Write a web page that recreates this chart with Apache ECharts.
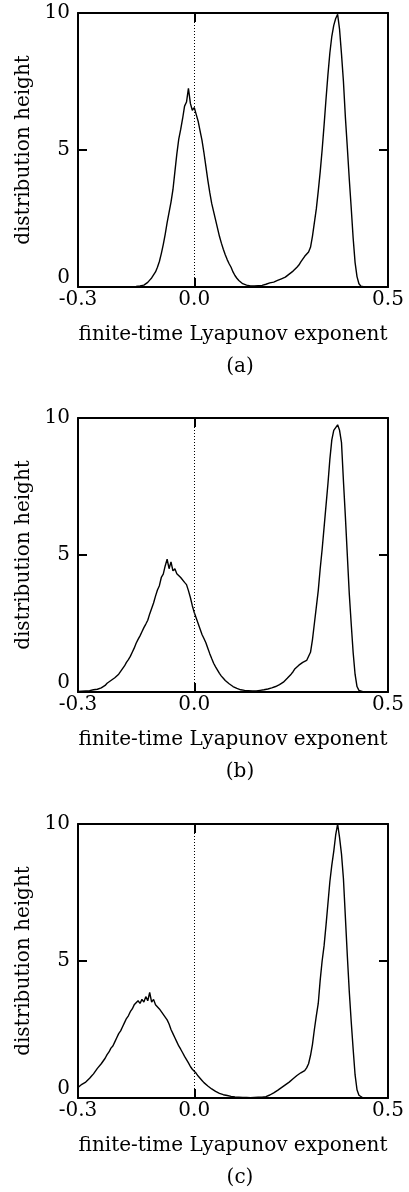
<!DOCTYPE html>
<html>
<head>
<meta charset="utf-8">
<script src="https://cdn.jsdelivr.net/npm/echarts@6/dist/echarts.min.js"></script>
<style>
html,body{margin:0;padding:0;background:#fff;}
#chart{width:409px;height:1192px;}
</style>
</head>
<body>
<div id="chart"></div>
<script>
// bins of the finite-time Lyapunov exponent histogram
const lyapStart = -0.3;
const lyapStep = 0.005;
const xTickValues = [-0.3, 0.0, 0.5];
const yTickValues = [0, 5, 10];
const panelLabels = ['(a)', '(b)', '(c)'];
const xAxisTitle = 'finite-time Lyapunov exponent';
const yAxisTitle = 'distribution height';

// each row = 20 bins (0.1 wide), last row single bin at 0.5
const distA = [
  0,0,0,0,0,0,0,0,0,0,0,0,0,0,0,0,0,0,0,0,
  0,0,0,0,0,0,0,0,0.01,0.01,0.02,0.02,0.04,0.05,0.07,0.11,0.17,0.25,0.33,0.44,
  0.55,0.72,0.93,1.22,1.55,1.92,2.35,2.72,3.1,3.55,4.2,4.85,5.4,5.75,6.15,6.6,6.75,7.25,6.7,6.45,
  6.55,6.3,6.05,5.7,5.35,4.9,4.4,3.9,3.45,3.05,2.75,2.45,2.15,1.85,1.6,1.38,1.18,1.0,0.85,0.72,
  0.55,0.42,0.32,0.24,0.17,0.12,0.08,0.07,0.05,0.04,0.03,0.04,0.03,0.05,0.04,0.06,0.08,0.1,0.11,0.15,
  0.14,0.18,0.21,0.24,0.26,0.3,0.33,0.36,0.42,0.47,0.52,0.58,0.65,0.72,0.8,0.92,0.98,1.12,1.08,1.28,
  1.45,1.85,2.35,2.85,3.5,4.2,5.0,5.9,6.85,7.75,8.55,9.15,9.55,9.8,9.95,9.4,8.5,7.5,6.2,5.1,
  3.95,2.9,1.8,0.9,0.38,0.12,0.03,0.01,0,0,0,0,0,0,0,0,0,0,0,0,
  0
];
const distB = [
  0.02,0.02,0.03,0.03,0.04,0.05,0.05,0.07,0.08,0.09,0.1,0.12,0.15,0.2,0.24,0.32,0.38,0.42,0.48,0.52,
  0.58,0.65,0.75,0.85,0.95,1.08,1.18,1.3,1.45,1.6,1.78,1.92,2.05,2.2,2.35,2.48,2.62,2.85,3.05,3.25,
  3.5,3.72,3.88,4.18,4.3,4.6,4.85,4.5,4.75,4.42,4.5,4.32,4.28,4.18,4.12,4.0,3.92,3.7,3.45,3.15,
  2.9,2.7,2.5,2.3,2.1,1.95,1.8,1.6,1.4,1.22,1.05,0.92,0.8,0.68,0.58,0.5,0.42,0.36,0.3,0.25,
  0.2,0.16,0.13,0.1,0.08,0.07,0.06,0.05,0.05,0.04,0.04,0.05,0.04,0.05,0.06,0.06,0.08,0.09,0.11,0.13,
  0.15,0.18,0.2,0.24,0.27,0.32,0.36,0.42,0.5,0.56,0.65,0.74,0.85,0.9,0.98,1.05,1.08,1.12,1.15,1.2,
  1.45,1.9,2.5,3.1,3.7,4.5,5.2,6.0,6.8,7.6,8.5,9.2,9.55,9.6,9.75,9.55,9.1,7.7,6.4,5.0,
  3.6,2.5,1.45,0.65,0.2,0.06,0.02,0.01,0,0,0,0,0,0,0,0,0,0,0,0,
  0
];
const distC = [
  0.38,0.45,0.5,0.52,0.58,0.62,0.72,0.8,0.88,0.95,1.08,1.15,1.25,1.35,1.45,1.58,1.68,1.82,1.9,2.05,
  2.2,2.35,2.45,2.6,2.75,2.9,3.0,3.15,3.25,3.4,3.35,3.55,3.45,3.6,3.5,3.7,3.55,3.85,3.5,3.6,
  3.4,3.35,3.25,3.15,3.05,2.95,2.85,2.7,2.5,2.35,2.2,2.05,1.9,1.78,1.65,1.52,1.4,1.28,1.15,1.05,
  0.98,0.9,0.8,0.72,0.64,0.56,0.5,0.44,0.38,0.33,0.28,0.24,0.2,0.17,0.15,0.12,0.1,0.09,0.07,0.06,
  0.05,0.04,0.03,0.03,0.02,0.02,0.01,0.02,0.01,0.01,0.02,0.02,0.02,0.03,0.03,0.03,0.04,0.05,0.08,0.11,
  0.15,0.19,0.24,0.28,0.33,0.38,0.43,0.48,0.52,0.58,0.64,0.7,0.76,0.82,0.88,0.92,0.96,1.0,1.1,1.25,
  1.55,1.95,2.5,3.0,3.45,4.3,5.0,5.55,6.3,7.1,7.9,8.5,9.0,9.6,10.0,9.5,8.9,8.0,6.6,5.2,
  3.9,2.8,1.8,0.85,0.3,0.1,0.03,0.01,0,0,0,0,0,0,0,0,0,0,0,0,
  0
];
const panels = [distA, distB, distC];

// layout
const FONT = 'DejaVu Serif';
const FS = 20;
const plotLeft = 78, plotWidth = 310, plotHeight = 274;
const plotTops = [13, 418, 824];

const chart = echarts.init(document.getElementById('chart'), null, {renderer: 'canvas'});

const grids = [], xAxes = [], yAxes = [], series = [], graphics = [];
panels.forEach((vals, i) => {
  grids.push({left: plotLeft, top: plotTops[i], width: plotWidth, height: plotHeight, containLabel: false});
  const axisLine = {show: true, onZero: false, lineStyle: {color: '#000', width: 2}};
  const tick = {show: true, inside: true, length: 9, lineStyle: {color: '#000', width: 2}, customValues: xTickValues};
  xAxes.push({
    type: 'value', gridIndex: i, position: 'bottom', min: -0.3, max: 0.5,
    axisLine: axisLine, axisTick: tick, splitLine: {show: false},
    axisLabel: {show: true, customValues: xTickValues, color: '#000', fontFamily: FONT, fontSize: FS, margin: 3,
      formatter: v => v.toFixed(1)},
    name: xAxisTitle, nameLocation: 'middle', nameGap: 38,
    nameTextStyle: {color: '#000', fontFamily: FONT, fontSize: FS}
  });
  xAxes.push({
    type: 'value', gridIndex: i, position: 'top', min: -0.3, max: 0.5,
    axisLine: axisLine, axisTick: tick, splitLine: {show: false}, axisLabel: {show: false}
  });
  const ytick = {show: true, inside: true, length: 9, lineStyle: {color: '#000', width: 2}};
  yAxes.push({
    type: 'value', gridIndex: i, position: 'left', min: 0, max: 10, interval: 5,
    axisLine: axisLine, axisTick: ytick, splitLine: {show: false},
    axisLabel: {show: true, color: '#000', fontFamily: FONT, fontSize: FS, margin: 8,
      formatter: v => v === 0 ? '{z|0}' : String(v),
      rich: {z: {fontFamily: FONT, fontSize: FS, color: '#000', padding: [0, 0, 18, 0]}}},
    name: yAxisTitle, nameLocation: 'middle', nameGap: 40,
    nameTextStyle: {color: '#000', fontFamily: FONT, fontSize: FS}
  });
  yAxes.push({
    type: 'value', gridIndex: i, position: 'right', min: 0, max: 10, interval: 5,
    axisLine: axisLine, axisTick: ytick, splitLine: {show: false}, axisLabel: {show: false}
  });
  series.push({
    type: 'line', xAxisIndex: 2 * i, yAxisIndex: 2 * i,
    data: vals.map((v, k) => [+(lyapStart + k * lyapStep).toFixed(3), v]),
    showSymbol: false, symbol: 'none', smooth: false,
    lineStyle: {color: '#000', width: 1.4},
    animation: false, silent: true,
    markLine: {
      silent: true, symbol: 'none', label: {show: false},
      lineStyle: {color: '#000', width: 1, type: [1, 2]},
      data: [{xAxis: 0}]
    }
  });
  graphics.push({
    type: 'text', x: 240, y: plotTops[i] + plotHeight + 80,
    style: {text: panelLabels[i], fill: '#000', fontFamily: FONT, fontSize: FS, align: 'center', verticalAlign: 'middle'}
  });
});

chart.setOption({
  animation: false,
  backgroundColor: '#fff',
  grid: grids,
  xAxis: xAxes,
  yAxis: yAxes,
  series: series,
  graphic: graphics
});
</script>
</body>
</html>
